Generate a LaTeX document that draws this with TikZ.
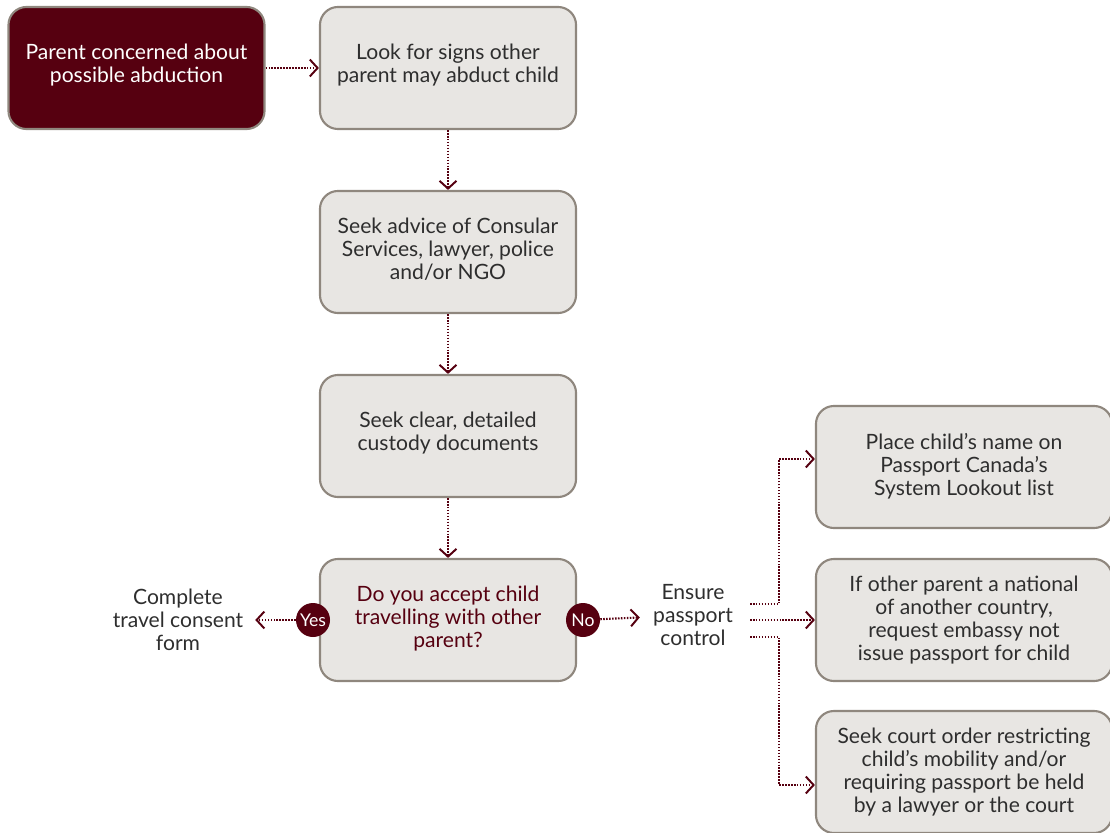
\documentclass[tikz,border=0pt]{standalone}
\usepackage{fontspec}
\setmainfont{Lato}
\usepackage{tikz}
\usetikzlibrary{arrows.meta,positioning}
\definecolor{maroon}{HTML}{560010}
\definecolor{boxfill}{HTML}{E8E6E3}
\definecolor{boxline}{HTML}{8F877E}
\definecolor{txtgray}{HTML}{2E2E2E}
\tikzset{
  stepbox/.style={draw=boxline,line width=1.5pt,fill=boxfill,rounded corners=0.45cm,
    minimum width=6.4cm,minimum height=3.05cm,align=center,text=txtgray,
    font=\fontsize{15}{16.4}\selectfont},
  widebox/.style={stepbox,minimum width=7.4cm},
  plain/.style={align=center,text=txtgray,font=\fontsize{15}{16.4}\selectfont},
  badge/.style={circle,fill=maroon,text=white,inner sep=0pt,minimum size=0.85cm,
    font=\fontsize{12.5}{13}\selectfont},
  arr/.style={maroon,line width=1.5pt,dash pattern=on 1.1pt off 1pt,
    -{Straight Barb[length=5.5pt,width=12pt,line width=1.4pt]}},
}
\begin{document}
\begin{tikzpicture}[x=0.025cm,y=-0.025cm]
  \useasboundingbox (0,0) rectangle (1110,833);
  %\draw[help lines,step=50] (0,0) grid (1110,833);
  \node[stepbox,fill=maroon,text=white] (parent) at (136.5,68) {Parent concerned about\\possible abduction\\[-10pt]};
  \node[stepbox] (signs) at (448,68) {Look for signs other\\parent may abduct child\\[-10pt]};
  \node[stepbox] (advice) at (448,252) {Seek advice of Consular\\Services, lawyer, police\\and/or NGO\\[-12pt]};
  \node[stepbox] (docs) at (448,436) {Seek clear, detailed\\custody documents\\[-10pt]};
  \node[stepbox,text=maroon] (accept) at (448,620) {Do you accept child\\travelling with other\\parent?\\[-12pt]};
  \node[badge] (yes) at (313,620) {Yes};
  \node[badge] (no) at (583,620) {No};
  \node[plain] (consent) at (178,620) {Complete\\travel consent\\form};
  \node[plain] (ensure) at (693,615) {Ensure\\passport\\control};
  \node[widebox] (lookout) at (964,467) {Place child's name on\\Passport Canada's\\System Lookout list\\[-13pt]};
  \node[widebox] (embassy) at (964,620) {If other parent a national\\of another country,\\request embassy not\\issue passport for child};
  \node[widebox] (court) at (964,772) {Seek court order restricting\\child's mobility and/or\\requiring passport be held\\by a lawyer or the court};
  \coordinate (b1) at (750,604);
  \coordinate (b2) at (750,620);
  \coordinate (b3) at (750,637);
  \draw[arr] (parent) -- (signs);
  \draw[arr] (signs) -- (advice);
  \draw[arr] (advice) -- (docs);
  \draw[arr] (docs) -- (accept);
  \draw[arr,shorten >=5pt] (yes) -- (consent);
  \draw[arr,shorten >=6pt] (no) -- (ensure);
  \draw[arr] (b1) -- (779,604) |- ([yshift=0.2cm]lookout.west);
  \draw[arr] (b2) -- (embassy.west);
  \draw[arr] (b3) -- (779,637) |- ([yshift=-0.325cm]court.west);
\end{tikzpicture}
\end{document}
